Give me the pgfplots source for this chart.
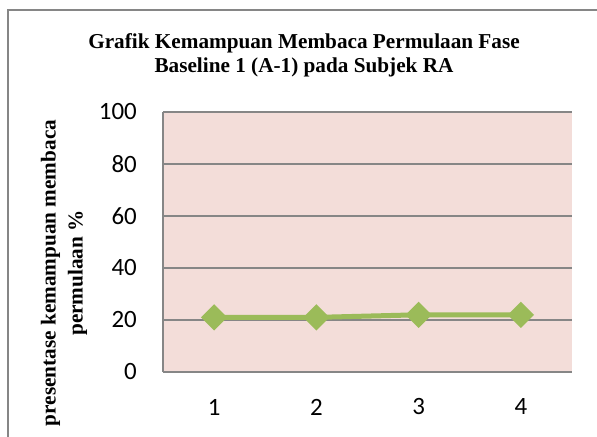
\documentclass[border=0pt]{standalone}
\usepackage{pgfplots}
\pgfplotsset{compat=1.18}
\usepackage{fontspec}
\setmainfont{Liberation Serif}
\newfontfamily\calibri{Carlito}
\definecolor{bgpink}{RGB}{243,221,217}
\definecolor{linegreen}{RGB}{155,187,89}
\definecolor{gridgray}{RGB}{134,134,134}
\begin{document}
\begin{tikzpicture}[x=1bp,y=1bp]
\useasboundingbox (0,0) rectangle (597,437);
\draw[gridgray, line width=1.5bp] (8,-5) -- (8,427) -- (605,427);
\node[align=center, font=\bfseries\fontsize{21.3}{24}\selectfont] at (304,382) {Grafik Kemampuan Membaca Permulaan Fase\\Baseline 1 (A-1) pada Subjek RA};
\node[align=center, rotate=90, font=\bfseries\fontsize{21.3}{27}\selectfont] at (64,164) {presentase kemampuan membaca\\permulaan \%};
\begin{axis}[
  at={(163bp,65bp)}, anchor=south west,
  scale only axis, width=409bp, height=260bp,
  xmin=0.5, xmax=4.5, ymin=0, ymax=100,
  xtick={1,2,3,4}, ytick={0,20,40,60,80,100},
  axis background/.style={fill=bgpink},
  ymajorgrids, grid style={gridgray, line width=1.5bp},
  axis x line*=bottom, axis y line*=left,
  axis line style={gridgray, line width=1.5bp, -},
  major tick length=0pt,
  /pgf/number format/assume math mode=true,
  tick label style={font=\calibri\fontsize{25}{30}\selectfont, inner sep=0pt},
  yticklabel style={anchor=east, xshift=-26bp},
  xticklabel style={anchor=center, yshift=-35bp},
  clip=false,
]
\addplot[linegreen, line width=5bp, mark=square*, mark size=6.8bp, mark options={rotate=45, solid}] coordinates {(1,21) (2,21) (3,22) (4,22)};
\end{axis}
\end{tikzpicture}
\end{document}
